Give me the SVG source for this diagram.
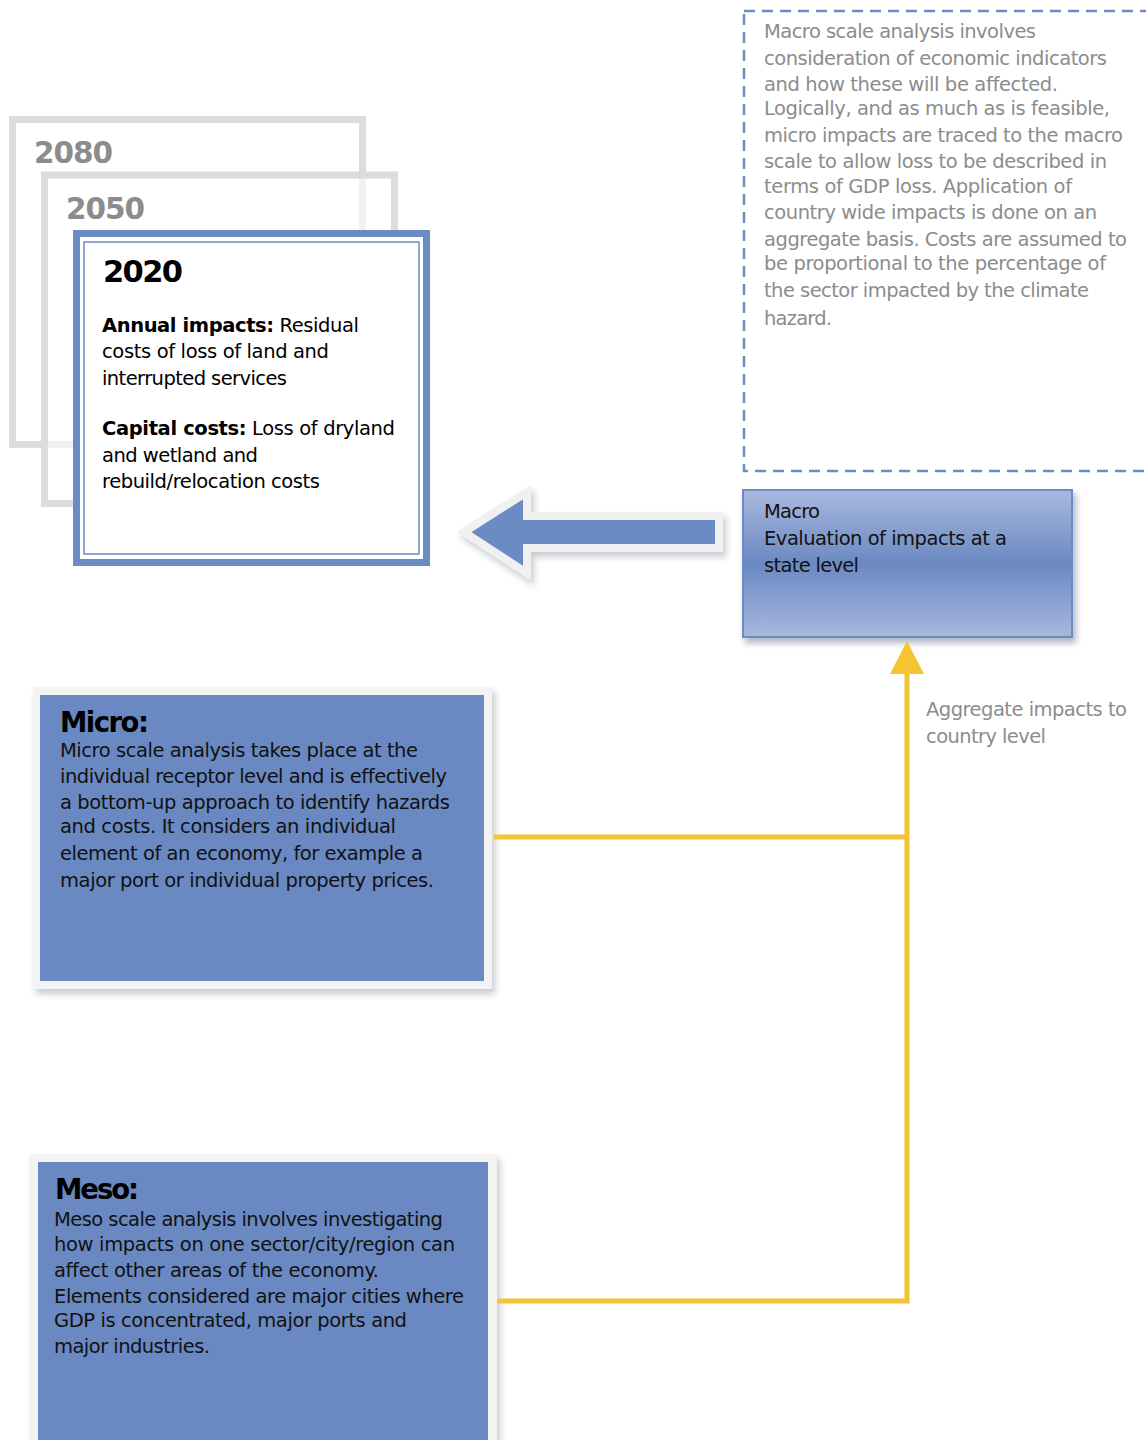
<svg xmlns="http://www.w3.org/2000/svg" width="1146" height="1440" viewBox="0 0 1146 1440">
<style>
  text { font-family: "DejaVu Sans", Verdana, sans-serif; }
  .year { font-size: 29.5px; font-weight: bold; fill: #8c8c8c; }
  .yearMain { font-size: 30.5px; font-weight: bold; fill: #000; }
  .body { font-size: 19.5px; fill: #000; }
  .gray { font-size: 19.5px; fill: #8c8c8c; }
  .dark { font-size: 19.5px; fill: #111; }
  .title { font-size: 27.5px; font-weight: bold; fill: #000; }
  .b { font-weight: bold; }
  .frame { fill: #ffffff; fill-opacity: 0.6; stroke: #dcdcdc; stroke-width: 7; }
  .conn { stroke: #f5c433; stroke-width: 5; fill: none; }
</style>
<defs>
  <linearGradient id="macroGrad" x1="0" y1="0" x2="0" y2="1">
    <stop offset="0" stop-color="#a8b9de"/>
    <stop offset="0.5" stop-color="#6b89c2"/>
    <stop offset="1" stop-color="#a6b8dd"/>
  </linearGradient>
  <filter id="shadow" x="-10%" y="-10%" width="130%" height="130%">
    <feDropShadow dx="3" dy="5" stdDeviation="3" flood-color="#1a2a50" flood-opacity="0.35"/>
  </filter>
  <filter id="softShadow" x="-10%" y="-10%" width="130%" height="130%">
    <feDropShadow dx="3" dy="5" stdDeviation="3" flood-color="#1a2a50" flood-opacity="0.25"/>
  </filter>
</defs>

<!-- Year frames -->
<g id="frame2080">
  <rect class="frame" x="12.5" y="119.5" width="350" height="325" fill-opacity="1"/>
  <text class="year" x="34" y="163" textLength="79">2080</text>
</g>
<g id="frame2050">
  <rect class="frame" x="44.5" y="175" width="350" height="328.5"/>
  <text class="year" x="66" y="219" textLength="79">2050</text>
</g>
<g id="frame2020">
  <rect x="76.5" y="233.5" width="350" height="329" fill="#ffffff" stroke="#6b8bc3" stroke-width="7"/>
  <rect x="84" y="242" width="335" height="312" fill="none" stroke="#6b8bc3" stroke-width="1.5"/>
  <text class="yearMain" x="103" y="282" textLength="80">2020</text>
  <text class="body" x="102" y="332" textLength="257"><tspan class="b">Annual impacts:</tspan> Residual</text>
  <text class="body" x="102" y="358" textLength="227">costs of loss of land and</text>
  <text class="body" x="102" y="385" textLength="185">interrupted services</text>
  <text class="body" x="102" y="435" textLength="293"><tspan class="b">Capital costs:</tspan> Loss of dryland</text>
  <text class="body" x="102" y="462" textLength="156">and wetland and</text>
  <text class="body" x="102" y="488" textLength="218">rebuild/relocation costs</text>
</g>

<!-- Macro description -->
<g id="macroNote">
  <rect x="744" y="11" width="420" height="460" fill="none" stroke="#6b8bc3" stroke-width="2.5" stroke-dasharray="11 7"/>
  <text class="gray" x="764" y="38" textLength="272">Macro scale analysis involves</text>
  <text class="gray" x="764" y="65" textLength="343">consideration of economic indicators</text>
  <text class="gray" x="764" y="91" textLength="294">and how these will be affected.</text>
  <text class="gray" x="764" y="115" textLength="346">Logically, and as much as is feasible,</text>
  <text class="gray" x="764" y="142" textLength="359">micro impacts are traced to the macro</text>
  <text class="gray" x="764" y="168" textLength="343">scale to allow loss to be described in</text>
  <text class="gray" x="764" y="193" textLength="308">terms of GDP loss. Application of</text>
  <text class="gray" x="764" y="219" textLength="333">country wide impacts is done on an</text>
  <text class="gray" x="764" y="246" textLength="363">aggregate basis. Costs are assumed to</text>
  <text class="gray" x="764" y="270" textLength="342">be proportional to the percentage of</text>
  <text class="gray" x="764" y="297" textLength="325">the sector impacted by the climate</text>
  <text class="gray" x="764" y="325" textLength="68">hazard.</text>
</g>

<!-- Macro box -->
<g id="macro">
  <rect x="743" y="490" width="329" height="147" fill="url(#macroGrad)" stroke="#6b8bc3" stroke-width="2" filter="url(#shadow)"/>
  <text class="dark" x="764" y="518" textLength="56">Macro</text>
  <text class="dark" x="764" y="545" textLength="243">Evaluation of impacts at a</text>
  <text class="dark" x="764" y="572" textLength="95">state level</text>
</g>

<!-- Big arrow -->
<g id="bigArrow">
  <polygon points="464,532 527,492 527,516 719,516 719,548 527,548 527,573" fill="#6b8bc3" stroke="#f0f0f0" stroke-width="8" stroke-linejoin="miter" filter="url(#softShadow)"/>
</g>

<!-- Micro box -->
<g id="micro">
  <rect x="33" y="687" width="459" height="302" fill="#f3f3f3" filter="url(#softShadow)"/>
  <rect x="40" y="695" width="444" height="286" fill="#6a89c2"/>
  <text class="title" x="60" y="732" textLength="89">Micro:</text>
  <text class="dark" x="60" y="757" textLength="358">Micro scale analysis takes place at the</text>
  <text class="dark" x="60" y="783" textLength="387">individual receptor level and is effectively</text>
  <text class="dark" x="60" y="809" textLength="390">a bottom-up approach to identify hazards</text>
  <text class="dark" x="60" y="833" textLength="336">and costs. It considers an individual</text>
  <text class="dark" x="60" y="860" textLength="363">element of an economy, for example a</text>
  <text class="dark" x="60" y="887" textLength="374">major port or individual property prices.</text>
</g>

<!-- Meso box -->
<g id="meso">
  <rect x="30" y="1154" width="467" height="300" fill="#f3f3f3" filter="url(#softShadow)"/>
  <rect x="38" y="1162" width="450" height="290" fill="#6a89c2"/>
  <text class="title" x="55" y="1199" textLength="84">Meso:</text>
  <text class="dark" x="54" y="1226" textLength="389">Meso scale analysis involves investigating</text>
  <text class="dark" x="54" y="1251" textLength="401">how impacts on one sector/city/region can</text>
  <text class="dark" x="54" y="1277" textLength="325">affect other areas of the economy.</text>
  <text class="dark" x="54" y="1303" textLength="410">Elements considered are major cities where</text>
  <text class="dark" x="54" y="1327" textLength="353">GDP is concentrated, major ports and</text>
  <text class="dark" x="54" y="1353" textLength="156">major industries.</text>
</g>

<!-- Aggregate label -->
<g id="aggLabel">
  <text class="gray" x="926" y="716" textLength="201">Aggregate impacts to</text>
  <text class="gray" x="926" y="743" textLength="120">country level</text>
</g>

<!-- Connectors -->
<g id="connectors">
  <polyline class="conn" points="494,837 907,837"/>
  <polyline class="conn" points="497,1301 907,1301 907,670"/>
  <polygon points="907,641 924,674 890,674" fill="#f5c433"/>
</g>
</svg>
